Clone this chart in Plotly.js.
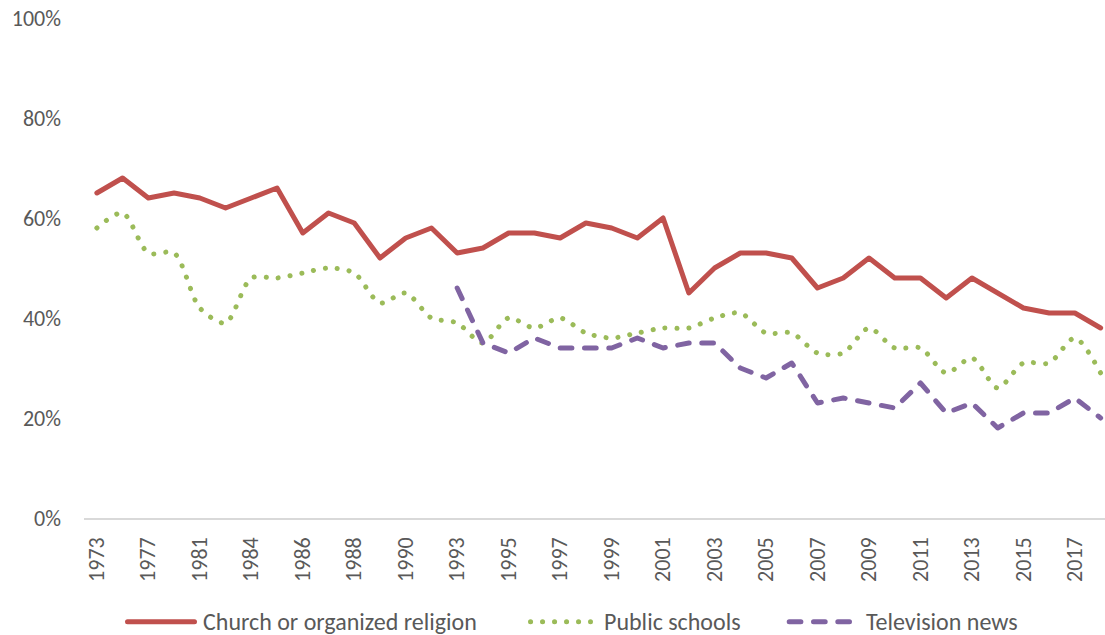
<!DOCTYPE html>
<html>
<head>
<meta charset="utf-8">
<script src="https://cdn.plot.ly/plotly-3.0.1.min.js"></script>
<style>
  html, body { margin: 0; padding: 0; background: #ffffff; }
  #chart { width: 1105px; height: 635px; }
  .js-line { stroke-linecap: round; stroke-linejoin: round; }
  .shapelayer path { stroke-linecap: round; }
</style>
</head>
<body>
<div id="chart"></div>
<script>
const years = ["1973","1975","1977","1979","1981","1983","1984","1985","1986","1987",
  "1988","1989","1990","1991","1993","1994","1995","1996","1997","1998",
  "1999","2000","2001","2002","2003","2004","2005","2006","2007","2008",
  "2009","2010","2011","2012","2013","2014","2015","2016","2017","2018"];

const church = [65,68,64,65,64,62,64,66,57,61,59,52,56,58,53,54,57,57,56,59,
  58,56,60,45,50,53,53,52,46,48,52,48,48,44,48,45,42,41,41,38];

const schools = [58,61,53,53,42,39,48,48,49,50,49,43,45,40,39,35,40,38,40,37,
  36,37,38,38,40,41,37,37,33,33,38,34,34,29,32,26,31,31,36,29];

const tvNews = [null,null,null,null,null,null,null,null,null,null,null,null,null,null,
  46,35,33,36,34,34,34,36,34,35,35,30,28,31,23,24,23,22,27,21,23,18,21,21,24,20];

const seriesNames = ["Church or organized religion", "Public schools", "Television news"];
const seriesColors = ["#C0504D", "#9BBB59", "#8064A2"];
const yTickVals = [0, 0.2, 0.4, 0.6, 0.8, 1.0];
const yTickText = ["0%", "20%", "40%", "60%", "80%", "100%"];

const FONT = "Carlito, Calibri, Lato, sans-serif";
const TXT = "#595959";
const TICK_SIZE = 22;
const LEG_SIZE = 24;
const pct = a => a.map(v => v === null ? null : v / 100);

const dotDash = "0.1px,11.9px";
const longDash = "11.7px,12.6px";

const traces = [
  { x: years, y: pct(church), type: "scatter", mode: "lines", name: seriesNames[0],
    line: { color: seriesColors[0], width: 5 }, hoverinfo: "skip" },
  { x: years, y: pct(schools), type: "scatter", mode: "lines", name: seriesNames[1],
    line: { color: seriesColors[1], width: 5, dash: dotDash, shape: "spline", smoothing: 0.8 }, hoverinfo: "skip" },
  { x: years, y: pct(tvNews), type: "scatter", mode: "lines", name: seriesNames[2],
    line: { color: seriesColors[2], width: 5, dash: longDash }, hoverinfo: "skip" }
];

// legend drawn in paper coordinates (plot area = 84..1105 px, 18..518 px)
const L = 84, W = 1021, B = 518, H = 500;
const px = p => (p - L) / W;
const py = p => (B - p) / H;
const legY = py(621.7);
const legendItems = [
  { x0: 127.5, x1: 194.5, tx: 201, dash: "solid" },
  { x0: 530.5, x1: 590.5, tx: 602, dash: dotDash },
  { x0: 789.2, x1: 849.5, tx: 864, dash: longDash }
];
const shapes = legendItems.map((it, i) => ({
  type: "line", xref: "paper", yref: "paper",
  x0: px(it.x0), x1: px(it.x1), y0: legY, y1: legY,
  line: { color: seriesColors[i], width: 5, dash: it.dash }
}));
const annotations = legendItems.map((it, i) => ({
  xref: "paper", yref: "paper", x: px(it.tx), y: legY,
  xanchor: "left", yanchor: "middle", showarrow: false,
  text: seriesNames[i], font: { family: FONT, size: LEG_SIZE, color: TXT }
}));

const layout = {
  width: 1105, height: 635,
  margin: { l: 84, r: 0, t: 18, b: 117 },
  paper_bgcolor: "#ffffff", plot_bgcolor: "#ffffff",
  showlegend: false,
  font: { family: FONT, size: TICK_SIZE, color: TXT },
  xaxis: {
    type: "category", range: [-0.5, 39.17],
    tickmode: "linear", tick0: 0, dtick: 2, tickangle: -90,
    showgrid: false, zeroline: false,
    showline: true, linecolor: "#D9D9D9", linewidth: 1.5,
    ticks: "", ticklabelstandoff: 9,
    tickfont: { family: FONT, size: TICK_SIZE, color: TXT },
    fixedrange: true
  },
  yaxis: {
    range: [0, 1], tickmode: "array", tickvals: yTickVals, ticktext: yTickText,
    showgrid: false, zeroline: false, showline: false, ticks: "",
    ticklabelstandoff: 22,
    tickfont: { family: FONT, size: TICK_SIZE, color: TXT },
    fixedrange: true
  },
  shapes: shapes,
  annotations: annotations
};

Plotly.newPlot("chart", traces, layout, { displayModeBar: false, staticPlot: true });
</script>
</body>
</html>
